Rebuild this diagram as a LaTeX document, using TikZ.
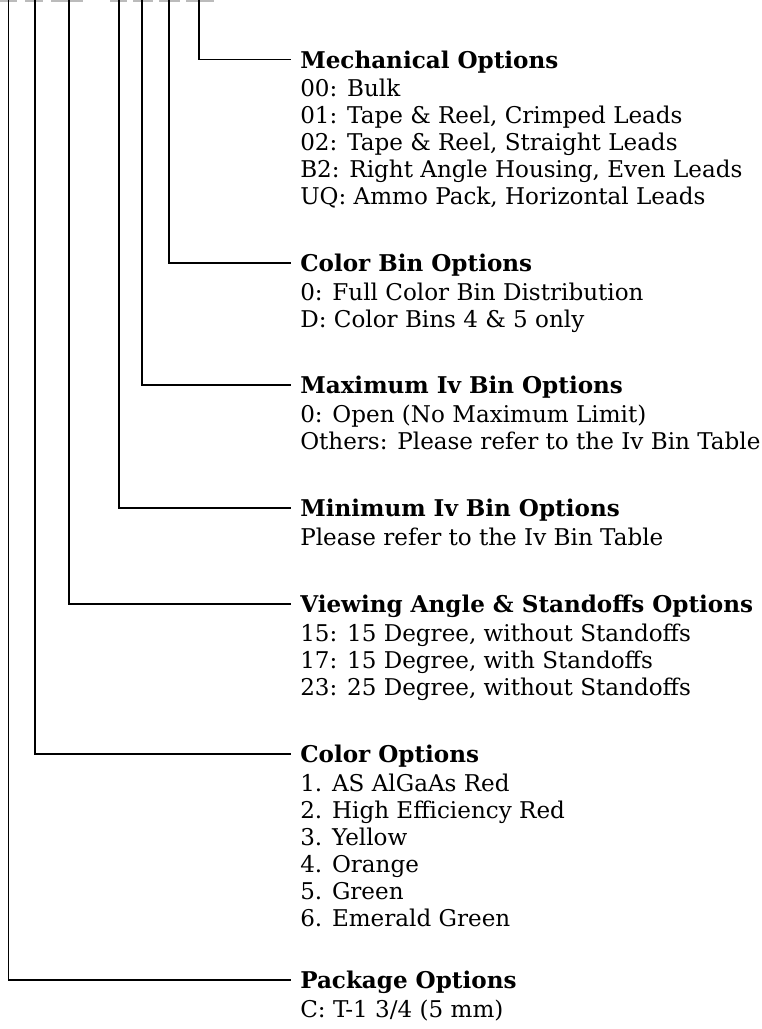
\documentclass[tikz,border=0pt]{standalone}
\usepackage{fontspec}
\setmainfont{DejaVu Serif}
\definecolor{dashgray}{HTML}{BBBBBB}
\tikzset{
  conn/.style={draw=black, line width=0.8pt},
  head/.style={anchor=base west, inner xsep=6.75pt, inner ysep=0pt, text height=12.75pt, text depth=0pt,
    font=\fontsize{17.3pt}{20pt}\selectfont\bfseries},
  item/.style={anchor=base west, inner sep=0pt, font=\fontsize{17.3pt}{20pt}\selectfont},
  topdash/.style={fill=dashgray, draw=none}
}
\newcommand\optblock[5]{%
  \node[head] (#1) at (291,#3+8.5) {#4};
  \draw[conn] (#2) |- (#1.west);
  \foreach \t [count=\i] in {#5} {
    \node[item] (#1-\i) at (300,#3+10+27*\i) {\t};
  }
}
\begin{document}
\begin{tikzpicture}[x=0.75pt,y=-0.75pt]
\useasboundingbox (0,0) rectangle (762,1029);
% top dashes
\foreach \a/\b in {0/17,25/43,51/83,110/127,133/153,159/180,186/214}
  \fill[topdash] (\a,0) rectangle (\b,1.6);
\coordinate (tpkg) at (8.5,0);
\coordinate (tcol) at (35,0);
\coordinate (tview) at (69,0);
\coordinate (tmin) at (119,0);
\coordinate (tmax) at (142,0);
\coordinate (tbin) at (169,0);
\coordinate (tmech) at (199,0);
\optblock{mech}{tmech}{59.5}{Mechanical Options}{{00: Bulk},{01: Tape \& Reel, Crimped Leads},{02: Tape \& Reel, Straight Leads},{B2: Right Angle Housing, Even Leads},{UQ: Ammo Pack, Horizontal Leads}}
\optblock{bin}{tbin}{263}{Color Bin Options}{{0: Full Color Bin Distribution},{D: Color Bins 4 \& 5 only}}
\optblock{max}{tmax}{385}{Maximum Iv Bin Options}{{0: Open (No Maximum Limit)},{Others: Please refer to the Iv Bin Table}}
\optblock{min}{tmin}{508}{Minimum Iv Bin Options}{{Please refer to the Iv Bin Table}}
\optblock{view}{tview}{604}{Viewing Angle \& Standoffs Options}{{15: 15 Degree, without Standoffs},{17: 15 Degree, with Standoffs},{23: 25 Degree, without Standoffs}}
\optblock{col}{tcol}{754}{Color Options}{{1. AS AlGaAs Red},{2. High Efficiency Red},{3. Yellow},{4. Orange},{5. Green},{6. Emerald Green}}
\optblock{pkg}{tpkg}{980}{Package Options}{{C: T-1 3/4 (5 mm)}}
\end{tikzpicture}
\end{document}
